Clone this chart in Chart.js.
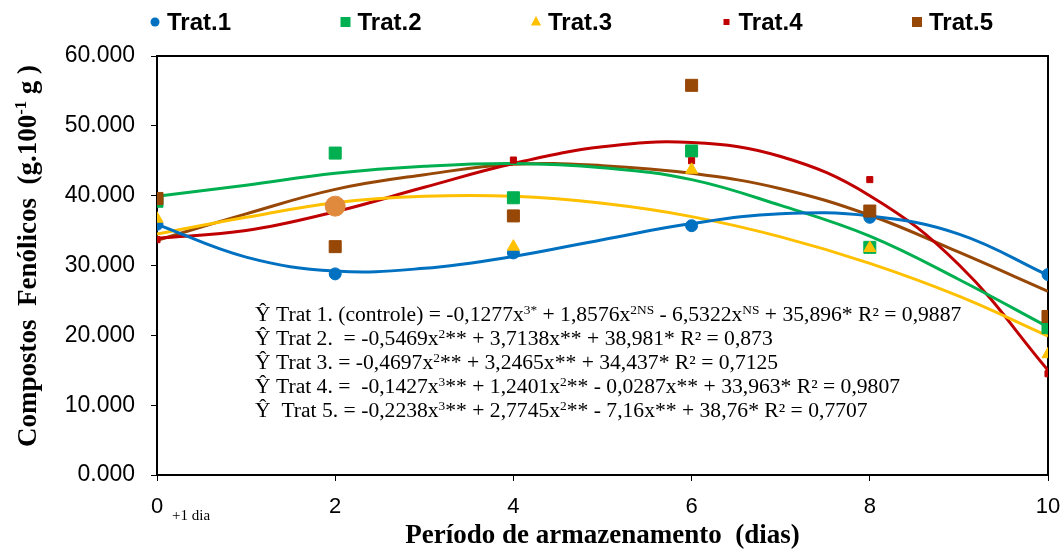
<!DOCTYPE html>
<html>
<head>
<meta charset="utf-8">
<script src="https://cdn.jsdelivr.net/npm/chart.js@4/dist/chart.umd.min.js"></script>
<style>
  body { margin: 0; background: #fff; }
  #wrap { width: 1062px; height: 556px; }
</style>
</head>
<body>
<div id="wrap"><canvas id="c" width="1062" height="556"></canvas></div>
<script>
// dias de armazenamento (pontos observados)
const dias = [0, 2, 4, 6, 8, 10];
const trat1 = [35.9, 28.8, 31.8, 35.7, 36.9, 28.7];
const trat2 = [39.2, 46.1, 39.7, 46.4, 32.6, 21.1];
const trat3 = [36.7, 38.5, 32.7, 43.7, 32.5, 17.3];
const trat4 = [33.7, 38.3, 45.1, 45.0, 42.3, 14.5];
const trat5 = [39.6, 32.7, 37.1, 55.8, 37.8, 22.7];

// linhas de tendência (x = 0..10)
const diasCurva = [0, 1, 2, 3, 4, 5, 6, 7, 8, 9, 10];
const curva1 = [35.9, 31.2, 29.2, 29.6, 31.3, 33.7, 36.0, 37.4, 37.1, 34.5, 28.6];
const curva2 = [39.9, 41.5, 43.2, 44.2, 44.6, 44.0, 42.3, 38.6, 34.2, 28.0, 21.2];
const curva3 = [34.5, 36.9, 39.0, 39.9, 39.9, 38.9, 37.0, 34.1, 30.3, 25.6, 19.9];
const curva4 = [33.9, 35.0, 37.7, 41.2, 44.6, 47.0, 47.6, 45.6, 40.0, 30.1, 15.0];
const curva5 = [33.6, 37.4, 40.9, 43.0, 44.5, 44.3, 43.2, 41.0, 37.2, 31.9, 26.3];

const nomes = ['Trat.1', 'Trat.2', 'Trat.3', 'Trat.4', 'Trat.5'];
const cores = ['#0070C0', '#00B050', '#FFC000', '#C00000', '#974706'];
const estilos = ['circle', 'rect', 'triangle', 'rect', 'rect'];
const raios = [6, 8.5, 7, 4.3, 8.5];
const ordem = [5, 4, 2, 3, 1];

const equacoes = [
  'Ŷ Trat 1. (controle) = -0,1277x^{3*} + 1,8576x^{2NS} - 6,5322x^{NS} + 35,896* R² = 0,9887',
  'Ŷ Trat 2.  = -0,5469x^{2}** + 3,7138x** + 38,981* R² = 0,873',
  'Ŷ Trat 3. = -0,4697x^{2}** + 3,2465x** + 34,437* R² = 0,7125',
  'Ŷ Trat 4. =  -0,1427x^{3}** + 1,2401x^{2}** - 0,0287x** + 33,963* R² = 0,9807',
  'Ŷ  Trat 5. = -0,2238x^{3}** + 2,7745x^{2}** - 7,16x** + 38,76* R² = 0,7707'
];
const tituloY = 'Compostos  Fenólicos  (g.100^{-1} g )';
const tituloX = 'Período de armazenamento  (dias)';

const serie = [trat1, trat2, trat3, trat4, trat5];
const curvas = [curva1, curva2, curva3, curva4, curva5];

const datasets = [];
serie.forEach((vals, i) => {
  const ds = {
    label: nomes[i],
    data: dias.map((d, k) => ({ x: d, y: vals[k] })),
    showLine: false,
    pointStyle: estilos[i],
    pointRadius: raios[i],
    pointBackgroundColor: cores[i],
    pointBorderColor: cores[i],
    pointBorderWidth: 1,
    order: ordem[i]
  };
  if (i === 2) {
    // ponto destacado em x = 2
    ds.pointStyle = vals.map((v, k) => k === 1 ? 'circle' : 'triangle');
    ds.pointRadius = vals.map((v, k) => k === 1 ? 10 : 7);
    ds.pointBackgroundColor = vals.map((v, k) => k === 1 ? '#E08A3E' : cores[2]);
    ds.pointBorderColor = ds.pointBackgroundColor;
  }
  datasets.push(ds);
});
curvas.forEach((vals, i) => {
  datasets.push({
    label: 'tend ' + nomes[i],
    data: diasCurva.map((d, k) => ({ x: d, y: vals[k] })),
    showLine: true,
    borderColor: cores[i],
    borderWidth: 3,
    pointRadius: 0,
    tension: 0.4,
    fill: false,
    order: 10 + i
  });
});

function parseRich(str) {
  const out = [];
  const re = /\^\{([^}]*)\}/g;
  let last = 0, m;
  while ((m = re.exec(str))) {
    if (m.index > last) out.push({ t: str.slice(last, m.index), sup: false });
    out.push({ t: m[1], sup: true });
    last = re.lastIndex;
  }
  if (last < str.length) out.push({ t: str.slice(last), sup: false });
  return out;
}
function richWidth(ctx, str, size, fam, weight) {
  let w = 0;
  parseRich(str).forEach(s => {
    ctx.font = `${weight} ${s.sup ? size * 0.62 : size}px ${fam}`;
    w += ctx.measureText(s.t).width;
  });
  return w;
}
function drawRich(ctx, str, x, y, size, fam, weight) {
  ctx.textBaseline = 'alphabetic';
  ctx.textAlign = 'left';
  parseRich(str).forEach(s => {
    const sz = s.sup ? size * 0.62 : size;
    ctx.font = `${weight} ${sz}px ${fam}`;
    ctx.fillText(s.t, x, s.sup ? y - size * 0.36 : y);
    x += ctx.measureText(s.t).width;
  });
}
function marcador(ctx, style, x, y, r, cor) {
  ctx.fillStyle = cor;
  ctx.beginPath();
  if (style === 'circle') ctx.arc(x, y, r, 0, Math.PI * 2);
  else if (style === 'triangle') { ctx.moveTo(x, y - r); ctx.lineTo(x + r * 0.85, y + r * 0.6); ctx.lineTo(x - r * 0.85, y + r * 0.6); ctx.closePath(); }
  else ctx.rect(x - r, y - r, 2 * r, 2 * r);
  ctx.fill();
}

const serif = '"Liberation Serif", "Times New Roman", serif';
const sans = '"Liberation Sans", Arial, sans-serif';

const extras = {
  id: 'extras',
  beforeDatasetsDraw(chart) {
    const { ctx, chartArea: a } = chart;
    ctx.save();
    ctx.strokeStyle = '#000';
    ctx.lineWidth = 2;
    ctx.beginPath();
    ctx.moveTo(a.left, a.top); ctx.lineTo(a.right, a.top); ctx.lineTo(a.right, a.bottom);
    ctx.stroke();
    ctx.restore();
  },
  afterDraw(chart) {
    const { ctx } = chart;
    ctx.save();
    ctx.fillStyle = '#000';
    // equações (texto um pouco alargado como no original)
    equacoes.forEach((eq, i) => {
      ctx.save();
      ctx.translate(255, 321 + i * 24);
      ctx.scale(1.08, 1);
      drawRich(ctx, eq, 0, 0, 20, serif, 'normal');
      ctx.restore();
    });
    // +1 dia
    ctx.font = 'normal 15px ' + serif;
    ctx.textAlign = 'left';
    ctx.textBaseline = 'middle';
    ctx.fillText('+1 dia', 172, 516);
    // título do eixo Y
    ctx.save();
    const w = richWidth(ctx, tituloY, 27, serif, 'bold');
    ctx.translate(36, 256);
    ctx.rotate(-Math.PI / 2);
    ctx.fillStyle = '#000';
    drawRich(ctx, tituloY, -w / 2, 0, 27, serif, 'bold');
    ctx.restore();
    // legenda
    const rLeg = [4.5, 5, 6, 3, 5];
    nomes.forEach((n, i) => {
      const x = 155 + i * 190.5;
      const y = 22;
      marcador(ctx, estilos[i], x, y, rLeg[i], cores[i]);
      ctx.fillStyle = '#000';
      ctx.font = 'bold 24px ' + sans;
      ctx.textAlign = 'left';
      ctx.textBaseline = 'middle';
      ctx.fillText(n, x + 12, y + 1);
    });
    ctx.restore();
  }
};

new Chart(document.getElementById('c'), {
  type: 'scatter',
  data: { datasets },
  options: {
    responsive: false,
    animation: false,
    layout: { padding: { top: 56, right: 14, left: 0, bottom: 0 } },
    plugins: { legend: { display: false }, tooltip: { enabled: false } },
    scales: {
      x: {
        type: 'linear', min: 0, max: 10,
        ticks: { stepSize: 2, color: '#000', padding: 13, font: { family: sans, size: 22 } },
        grid: { drawOnChartArea: false, drawTicks: true, tickLength: 6, color: '#000', tickWidth: 1 },
        border: { display: true, color: '#000', width: 2 },
        title: { display: true, text: tituloX, color: '#000', padding: { top: 0, bottom: 4 }, font: { family: serif, size: 27, weight: 'bold' } },
        afterFit(s) { s.height = 81; s.paddingLeft = 0; s.paddingRight = 0; }
      },
      y: {
        min: 0, max: 60,
        ticks: { stepSize: 10, color: '#000', padding: 16, font: { family: sans, size: 23 }, callback: v => v.toFixed(3) },
        grid: { drawOnChartArea: false, drawTicks: true, tickLength: 6, color: '#000', tickWidth: 1 },
        border: { display: true, color: '#000', width: 2 },
        afterFit(s) { s.width = 157; s.paddingTop = 0; s.paddingBottom = 0; }
      }
    }
  },
  plugins: [extras]
});
</script>
</body>
</html>
